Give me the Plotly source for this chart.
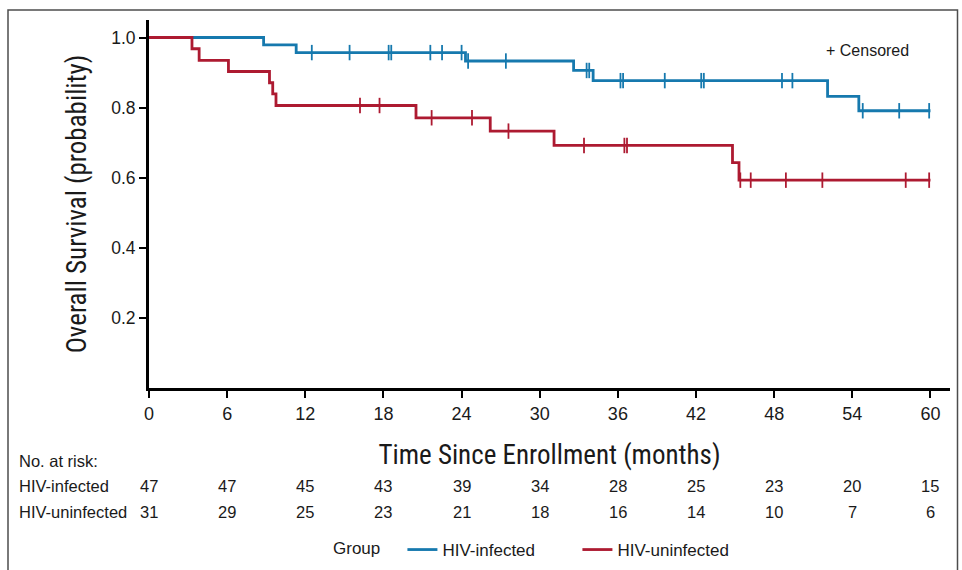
import plotly.graph_objects as go

# ---- data ----
# HIV-infected: step times (months) and survival after each step
inf_t = [0, 8.8, 11.3, 24.3, 32.6, 34.1, 52.1, 54.5, 60.0]
inf_s = [1.0, 0.979, 0.957, 0.933, 0.906, 0.877, 0.832, 0.791, 0.791]
inf_cens = [12.5, 15.4, 18.4, 18.6, 21.6, 22.5, 24.0, 24.5, 27.4, 33.6, 33.8,
            36.2, 36.4, 39.6, 42.4, 42.6, 48.6, 49.4, 54.8, 57.6, 59.9]

# HIV-uninfected
uninf_t = [0, 3.3, 3.85, 6.1, 9.25, 9.5, 9.75, 20.5, 26.2, 31.1, 44.8, 45.3, 60.0]
uninf_s = [1.0, 0.968, 0.935, 0.903, 0.871, 0.839, 0.806, 0.771, 0.733, 0.692,
           0.643, 0.593, 0.593]
uninf_cens = [16.2, 17.7, 21.7, 24.8, 27.6, 33.4, 36.5, 36.7, 45.4, 46.2, 48.9,
              51.7, 58.1, 59.9]

risk_times = [0, 6, 12, 18, 24, 30, 36, 42, 48, 54, 60]
risk_inf = [47, 47, 45, 43, 39, 34, 28, 25, 23, 20, 15]
risk_uninf = [31, 29, 25, 23, 21, 18, 16, 14, 10, 7, 6]

x_ticks = [0, 6, 12, 18, 24, 30, 36, 42, 48, 54, 60]
y_ticks = [0.2, 0.4, 0.6, 0.8, 1.0]

BLUE = "#1679ae"
RED = "#ad1a31"
FONT = "Liberation Sans, Arial, sans-serif"
NARROW = "Roboto Condensed, Liberation Sans Narrow, sans-serif"
TXT = "#1a1a1a"


def surv_at(times, surv, t):
    val = surv[0]
    for ti, si in zip(times, surv):
        if ti <= t:
            val = si
    return val


fig = go.Figure()
for name, t, s, cens, col in [("HIV-infected", inf_t, inf_s, inf_cens, BLUE),
                              ("HIV-uninfected", uninf_t, uninf_s, uninf_cens, RED)]:
    fig.add_trace(go.Scatter(x=t, y=s, mode="lines", line=dict(color=col, width=2.8, shape="hv"),
                             name=name))
    fig.add_trace(go.Scatter(x=cens, y=[surv_at(t, s, c) for c in cens], mode="markers",
                             marker=dict(symbol="line-ns", size=11, line=dict(color=col, width=1.8)),
                             showlegend=False, hoverinfo="skip"))

L, R, T, B = 149, 12, 20, 182
W, H = 962, 570
pw, ph = W - L - R, H - T - B

def px_x(px):
    return (px - L) / pw

def px_y(py):
    return (H - B - py) / ph

annots = []
for label, py in [("No. at risk:", 461), ("HIV-infected", 486), ("HIV-uninfected", 512)]:
    annots.append(dict(x=px_x(17), y=px_y(py), xref="paper", yref="paper", text=label,
                       showarrow=False, xanchor="left", yanchor="middle",
                       font=dict(size=16.5)))
for tx, a, b in zip(risk_times, risk_inf, risk_uninf):
    annots.append(dict(x=tx, y=px_y(486), xref="x", yref="paper", text=str(a), showarrow=False,
                       xanchor="center", yanchor="middle", font=dict(size=16.5)))
    annots.append(dict(x=tx, y=px_y(512), xref="x", yref="paper", text=str(b), showarrow=False,
                       xanchor="center", yanchor="middle", font=dict(size=16.5)))
annots.append(dict(x=px_x(824), y=px_y(50), xref="paper", yref="paper", text="+ Censored",
                   showarrow=False, xanchor="left", yanchor="middle", font=dict(size=16)))

fig.update_layout(
    width=W, height=H,
    margin=dict(l=L, r=R, t=T, b=B, autoexpand=False),
    paper_bgcolor="white", plot_bgcolor="white",
    font=dict(family=FONT, color=TXT, size=17),
    xaxis=dict(range=[0, 61.5], tickvals=x_ticks, ticks="outside", ticklen=7, tickwidth=1.5,
               tickcolor="black", showline=True, linewidth=3, linecolor="black", showgrid=False,
               zeroline=False, automargin=False, tickfont=dict(size=18),
               title=dict(text="Time Since Enrollment (months)",
                          font=dict(size=27, family=NARROW), standoff=23)),
    yaxis=dict(range=[0, 1.05], tickvals=y_ticks, tickformat=".1f", ticks="outside", ticklen=7,
               tickwidth=1.5, tickcolor="black", showline=True, linewidth=3, linecolor="black",
               showgrid=False, zeroline=False, automargin=False, tickfont=dict(size=17.5),
               title=dict(text="Overall Survival (probability)",
                          font=dict(size=27, family=NARROW), standoff=17)),
    legend=dict(orientation="h", x=px_x(331), xanchor="left", y=px_y(550), yanchor="middle",
                title=dict(text="Group&nbsp;&nbsp;&nbsp;", side="left", font=dict(size=17)),
                font=dict(size=17), entrywidth=130, entrywidthmode="pixels", tracegroupgap=0),
    annotations=annots,
    shapes=[dict(type="rect", xref="paper", yref="paper", x0=px_x(8), x1=px_x(957.5),
                 y0=px_y(600), y1=px_y(10), line=dict(color="#4d4d4d", width=1.5))],
)

fig.write_html("out.html", post_script="document.body.style.margin='0';",
               config={"displayModeBar": False})
